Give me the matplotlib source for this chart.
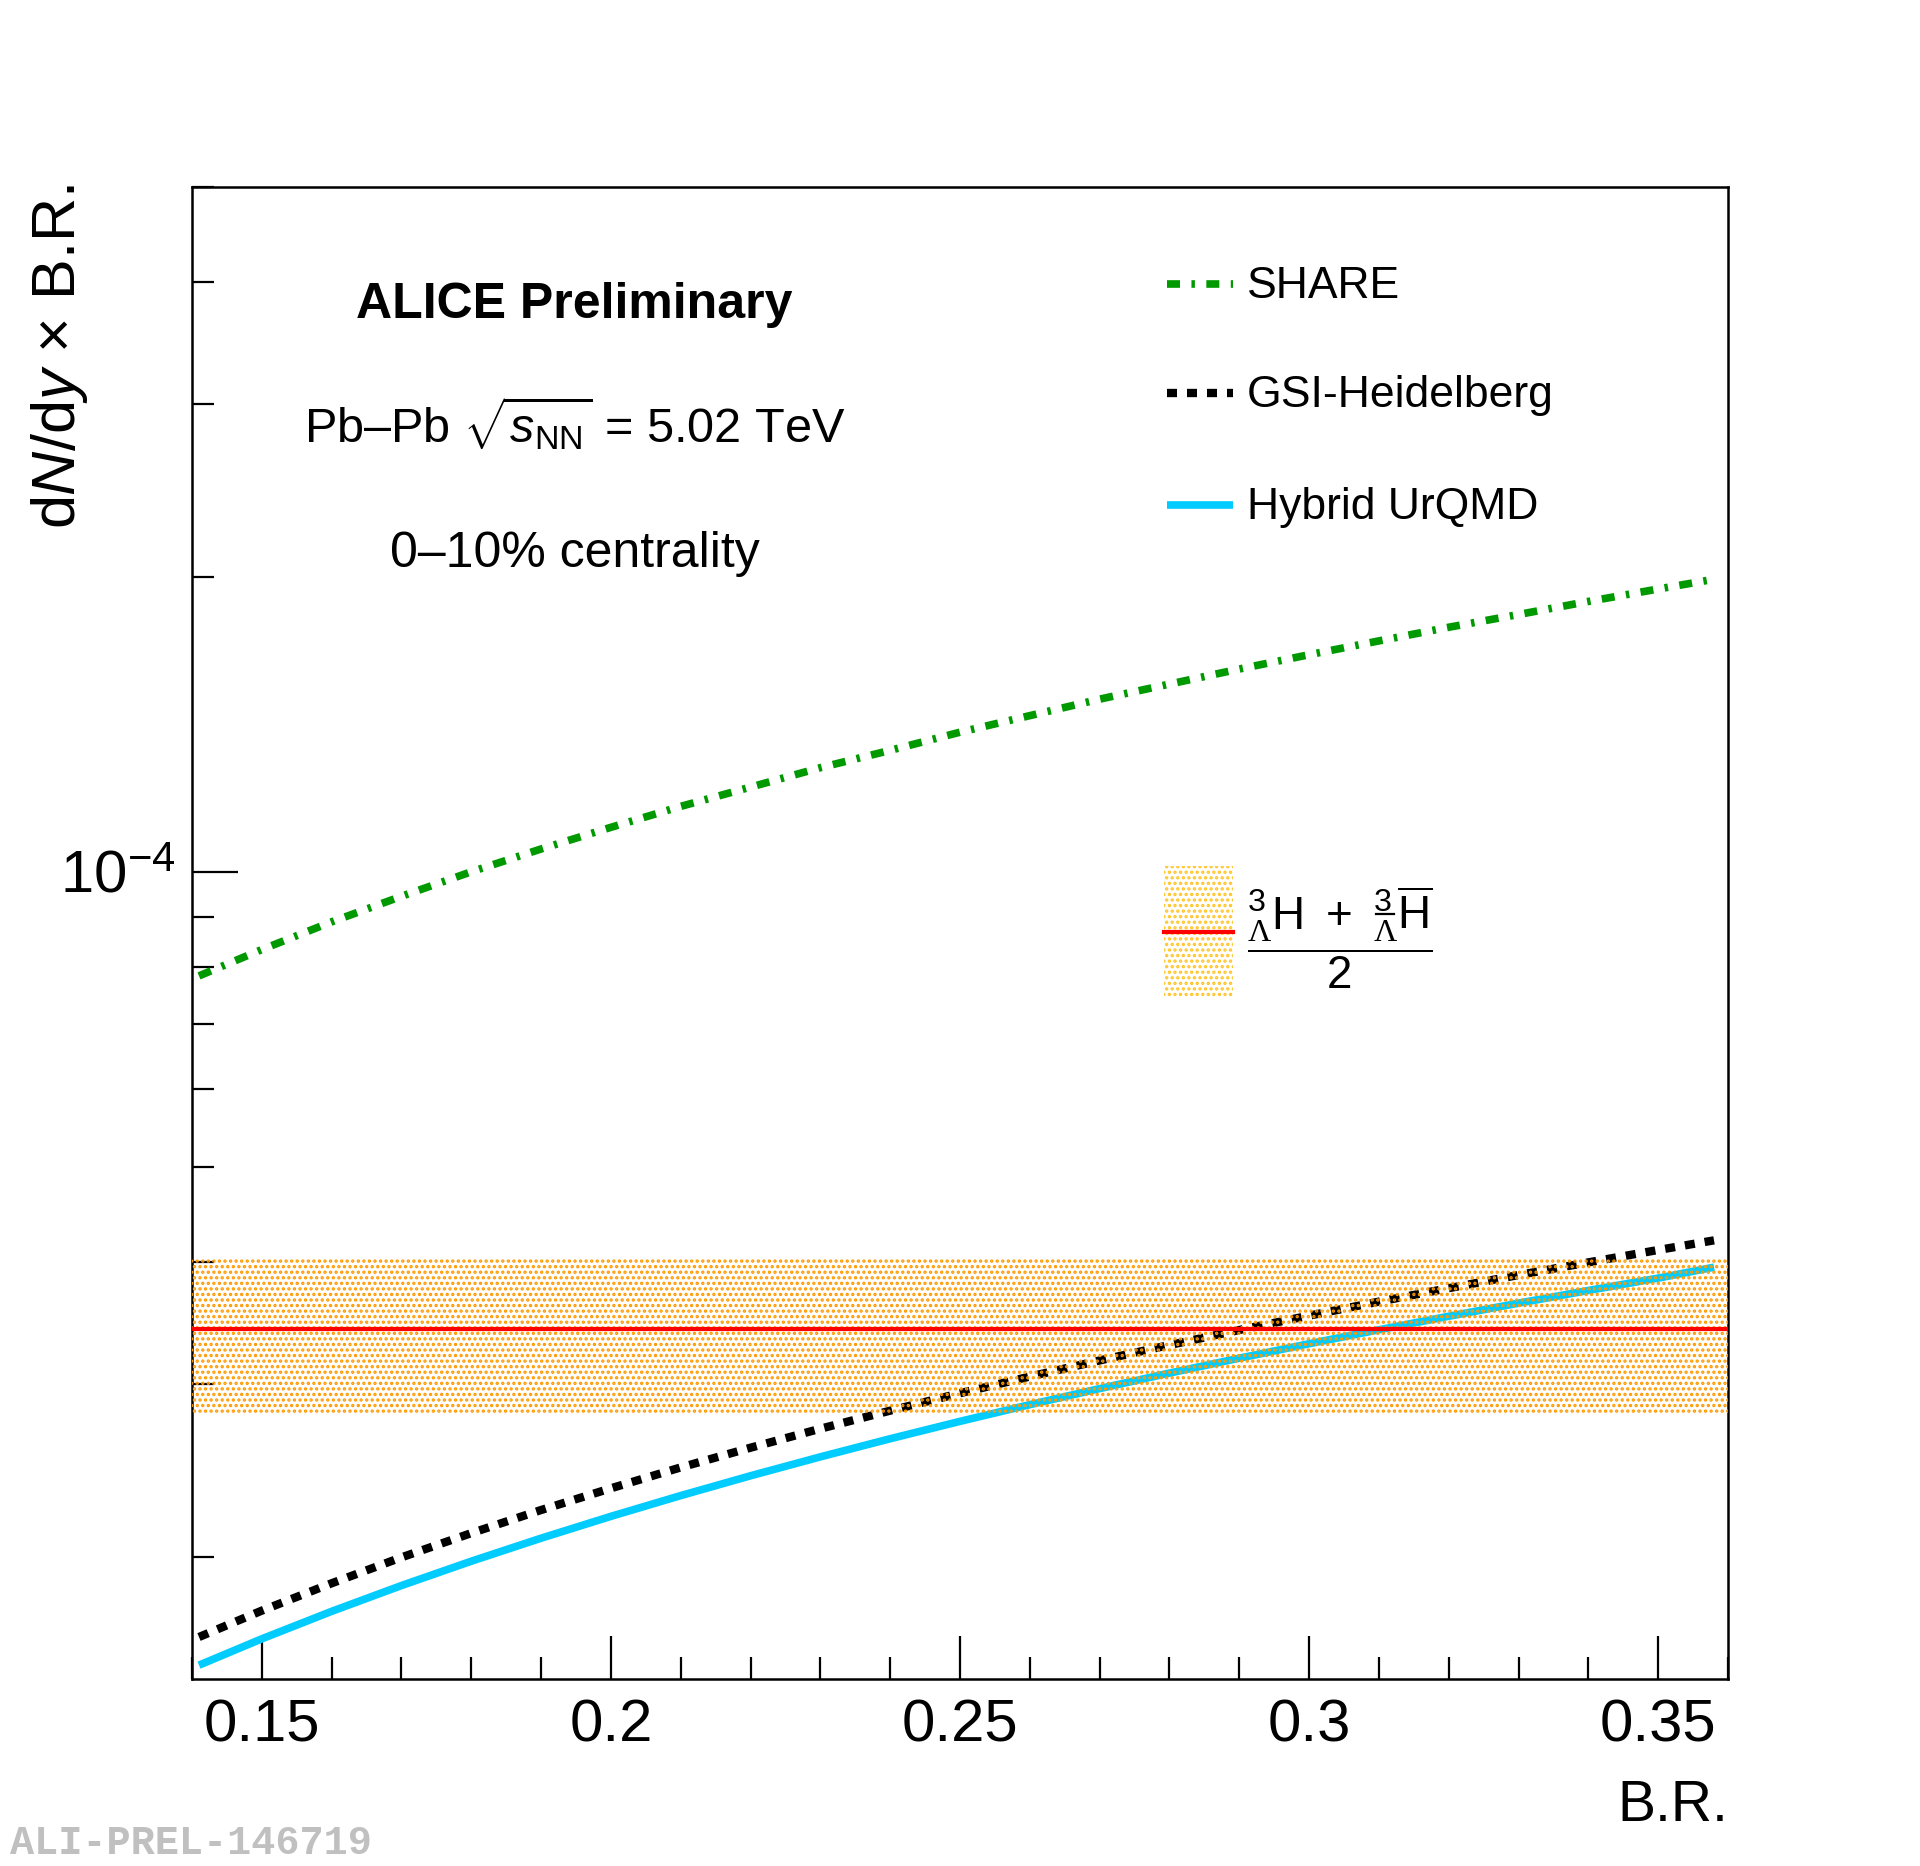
import matplotlib
matplotlib.use("Agg")
import matplotlib.pyplot as plt
import matplotlib.ticker as mticker
from matplotlib.lines import Line2D
from matplotlib.patches import Rectangle

plt.rcParams['font.family'] = ['Liberation Sans', 'DejaVu Sans']
plt.rcParams['mathtext.fontset'] = 'custom'
plt.rcParams['mathtext.rm'] = 'Liberation Sans'
plt.rcParams['mathtext.it'] = 'Liberation Sans:italic'
plt.rcParams['mathtext.bf'] = 'Liberation Sans:bold'
plt.rcParams['mathtext.sf'] = 'Liberation Serif'
plt.rcParams['hatch.linewidth'] = 1.6

# ---- data ----
br = [0.141, 0.15, 0.16, 0.17, 0.18, 0.19, 0.20, 0.21, 0.22, 0.23, 0.24, 0.25,
      0.26, 0.27, 0.28, 0.29, 0.30, 0.31, 0.32, 0.33, 0.34, 0.35, 0.358]
share = [7.83e-5, 8.33e-5, 8.89e-5, 9.44e-5, 1.00e-4, 1.055e-4, 1.11e-4, 1.166e-4,
         1.22e-4, 1.277e-4, 1.33e-4, 1.388e-4, 1.443e-4, 1.50e-4, 1.554e-4, 1.61e-4,
         1.665e-4, 1.72e-4, 1.776e-4, 1.83e-4, 1.887e-4, 1.943e-4, 1.988e-4]
gsi = [1.657e-5, 1.763e-5, 1.88e-5, 1.998e-5, 2.115e-5, 2.233e-5, 2.35e-5, 2.468e-5,
       2.585e-5, 2.703e-5, 2.82e-5, 2.938e-5, 3.055e-5, 3.173e-5, 3.29e-5, 3.408e-5,
       3.525e-5, 3.643e-5, 3.76e-5, 3.878e-5, 3.995e-5, 4.113e-5, 4.207e-5]
urqmd = [1.551e-5, 1.65e-5, 1.76e-5, 1.87e-5, 1.98e-5, 2.09e-5, 2.20e-5, 2.31e-5,
         2.42e-5, 2.53e-5, 2.64e-5, 2.75e-5, 2.86e-5, 2.97e-5, 3.08e-5, 3.19e-5,
         3.30e-5, 3.41e-5, 3.52e-5, 3.63e-5, 3.74e-5, 3.85e-5, 3.95e-5]
meas_x = [0.14, 0.36]
meas_val = 3.42e-5
meas_lo = 2.79e-5
meas_hi = 4.03e-5

xticks = [0.15, 0.20, 0.25, 0.30, 0.35]
xtick_labels = ['0.15', '0.2', '0.25', '0.3', '0.35']
labels = ['SHARE', 'GSI-Heidelberg', 'Hybrid UrQMD']

c_share = '#009900'
c_gsi = '#000000'
c_urqmd = '#00ccff'
c_band = '#ff9900'
c_band_leg = '#ffc425'
c_meas = '#ff0000'

fig = plt.figure(figsize=(19.2, 18.66), dpi=100)
ax = fig.add_axes([0.1, 0.1, 0.8, 0.8])
ax.set_yscale('log')
ax.set_xlim(0.14, 0.36)
ax.set_ylim(1.5e-5, 5e-4)

share_style = dict(color=c_share, lw=5.5, dashes=(1.7, 1.5, 0.45, 1.5))
gsi_style = dict(color=c_gsi, lw=6, dashes=(1.2, 1.2))
urqmd_style = dict(color=c_urqmd, lw=5.5)

ax.plot(br, share, zorder=3, **share_style)
ax.plot(br, gsi, zorder=3, **gsi_style)
ax.plot(br, urqmd, zorder=3, solid_capstyle='butt', **urqmd_style)

# measurement band (dotted fill drawn over curves)
ax.fill_between(meas_x, [meas_lo] * 2, [meas_hi] * 2, facecolor='none',
                edgecolor=c_band, hatch='...', linewidth=0, zorder=4)
ax.plot(meas_x, [meas_val] * 2, color=c_meas, lw=3, zorder=5)

# axes styling
for s in ax.spines.values():
    s.set_linewidth(1.8)
ax.xaxis.set_major_locator(mticker.FixedLocator(xticks))
ax.xaxis.set_major_formatter(mticker.FixedFormatter(xtick_labels))
ax.xaxis.set_minor_locator(mticker.MultipleLocator(0.01))
ax.yaxis.set_major_locator(mticker.LogLocator(base=10))
ax.yaxis.set_minor_locator(mticker.LogLocator(base=10, subs=range(2, 10)))
ax.yaxis.set_minor_formatter(mticker.NullFormatter())
ax.tick_params(axis='both', which='both', direction='in', top=False, right=False,
               width=1.6, labelsize=43)
ax.tick_params(axis='x', which='major', length=31, pad=14)
ax.tick_params(axis='x', which='minor', length=16)
ax.tick_params(axis='y', which='major', length=33, pad=12)
ax.tick_params(axis='y', which='minor', length=16)

# axis titles (ROOT style, right/top aligned)
fig.text(0.9, 1 - 1806 / 1866, 'B.R.', ha='right', va='center', fontsize=41)
fig.text(0.031, 1 - 184 / 1866, r'd$N$/d$y$ $\times$ B.R.', ha='center', va='top',
         rotation=90, fontsize=44)

# annotations
ax.text(0.249, 0.921, 'ALICE Preliminary', transform=ax.transAxes, ha='center',
        va='center', fontsize=36, fontweight='bold')
ax.text(0.249, 0.8416, r'Pb–Pb $\sqrt{s_{\mathrm{NN}}}$ = 5.02 TeV', transform=ax.transAxes,
        ha='center', va='center', fontsize=35)
ax.text(0.249, 0.7537, '0–10% centrality', transform=ax.transAxes, ha='center',
        va='center', fontsize=36)

# legend (manual)
lx0, lx1, tx = 0.6345, 0.6775, 0.687
for y, lab, st in zip([0.935, 0.862, 0.787], labels, [share_style, gsi_style, urqmd_style]):
    ln = Line2D([lx0, lx1], [y, y], transform=ax.transAxes, zorder=6, solid_capstyle='butt', **st)
    ax.add_line(ln)
    ax.text(tx, y - 0.002, lab, transform=ax.transAxes, ha='left', va='center', fontsize=32)

ax.add_patch(Rectangle((0.6326, 0.457), 0.0449, 0.088, transform=ax.transAxes,
                       facecolor='none', edgecolor=c_band_leg, hatch='...', linewidth=0, zorder=6))
ax.add_line(Line2D([0.6326, 0.6775], [0.501, 0.501], transform=ax.transAxes,
                   color=c_meas, lw=3, zorder=7))
ax.text(tx, 0.497,
        r'$\dfrac{{}^{3}_{\mathsf{\Lambda}}\mathrm{H}\ +\ {}^{3}_{\mathsf{\Lambda}}\overline{\mathrm{H}}}{2}$',
        transform=ax.transAxes, ha='left', va='center', fontsize=33)
# small bar over the anti-Lambda subscript
fig.add_artist(Line2D([1376 / 1920, 1394 / 1920], [1 - 914 / 1866, 1 - 914 / 1866],
                      transform=fig.transFigure, color='black', lw=1.6))

# watermark
fig.text(10 / 1920, 1 - 1843 / 1866, 'ALI-PREL-146719', ha='left', va='center',
         fontsize=29, color='#c0c0c0', family='Liberation Mono', fontweight='bold')

fig.savefig('out.png', dpi=100)
